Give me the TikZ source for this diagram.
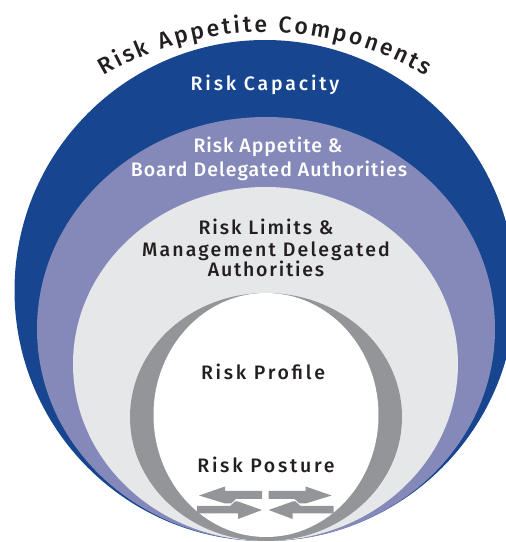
\documentclass[tikz,border=0pt]{standalone}
\usepackage{fontspec}
\setmainfont{Fira Sans}[UprightFont={* Medium}]
\usepackage{tikz}
\usetikzlibrary{
    decorations.text
}
\definecolor{capblue}{RGB}{23,69,143}
\definecolor{appviolet}{RGB}{132,137,186}
\definecolor{limgray}{RGB}{230,231,232}
\definecolor{progray}{RGB}{147,149,152}
\definecolor{txtdark}{RGB}{35,31,32}

\begin{document}
\begin{tikzpicture}[x=1pt, y=1pt,
    lbl/.style={anchor=base, inner sep=0pt, text=txtdark,
        font=\fontsize{19.5}{19.5}\selectfont\addfontfeatures{LetterSpace=#1}},
    lblw/.style={lbl=#1, text=white},
    arr/.style={fill=progray}]
    \useasboundingbox (0, 0) rectangle (506, 542);
    \clip (0, 0) rectangle (506, 542);
    % layers, all touching at the bottom
    \coordinate (cap) at (265, 251.5);
    \coordinate (app) at (266, 213);
    \coordinate (lim) at (265.5, 178);
    \coordinate (pro) at (266, 125);
    \coordinate (pin) at (266, 127);
    \coordinate (tc) at (265, 192.5);
    \fill[capblue] (cap) circle [radius=250.5];
    \fill[appviolet] (app) ellipse [x radius=229, y radius=212];
    \fill[limgray] (lim) ellipse [x radius=192.5, y radius=177];
    \fill[progray] (pro) ellipse [x radius=136, y radius=124];
    \fill[white] (pin) ellipse [x radius=112.5, y radius=122];
    % title on the arc
    \path[decorate, decoration={text along path, text align=fit to path, text color=txtdark,
        text={|\fontsize{23}{23}\selectfont|Risk Appetite Components}}]
        (tc) ++(120.5:317.5) arc [start angle=120.5, end angle=59.5, radius=317.5];
    % labels
    \node[lblw=14.5] (cap1) at (265, 451.5) {Risk Capacity};
    \node[lblw=5] (app1) at (268, 389) {Risk Appetite \&};
    \node[lblw=5.5] (app2) at (269, 365) {Board Delegated Authorities};
    \node[lbl=10] (lim1) at (266, 307) {Risk Limits \&};
    \node[lbl=11] (lim2) at (266, 285.5) {Management Delegated};
    \node[lbl=9] (lim3) at (266, 265.5) {Authorities};
    \node[lbl=14] (prof) at (263, 162) {Risk Profile};
    \node[lbl=14] (post) at (266, 69) {Risk Posture};
    % arrows
    \foreach \s/\m in {0pt/1, 530.6pt/-1} {
        \begin{scope}[xshift=\s, xscale=\m]
            \fill[arr] (199, 46.5) -- (225, 55.5) -- (225, 51) -- (262, 51) -- (262, 43)
                -- (236, 43) -- (231, 38.5) -- (225, 38.5) -- cycle;
            \fill[arr] (197, 36) -- (230, 36) -- (235, 40.5) -- (238, 40.5) -- (262, 32)
                -- (238, 23) -- (238, 28.5) -- (197, 28.5) -- cycle;
        \end{scope}
    }
\end{tikzpicture}
\end{document}
